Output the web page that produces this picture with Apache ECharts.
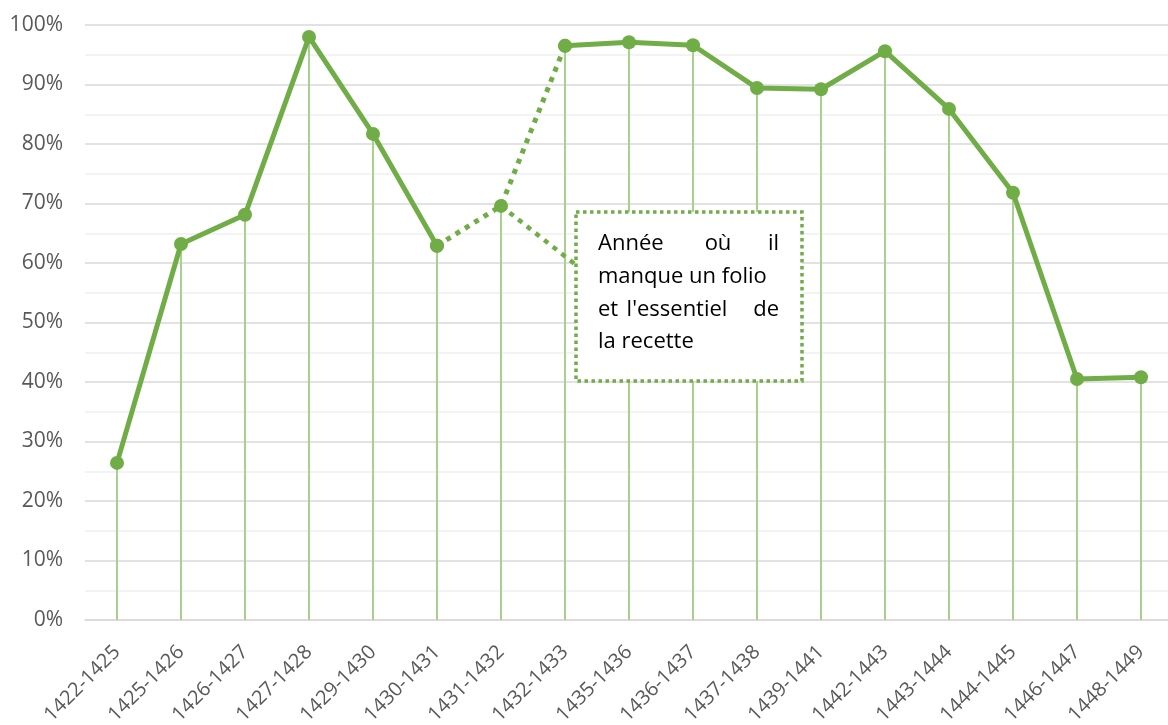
<!DOCTYPE html>
<html>
<head>
<meta charset="utf-8">
<script src="https://cdn.jsdelivr.net/npm/echarts@6/dist/echarts.min.js"></script>
<style>
html, body { margin: 0; padding: 0; background: #fff; }
#main { width: 1168px; height: 725px; }
</style>
</head>
<body>
<div id="main"></div>
<script>
// Part de la recette par exercice (%)
var annees = [ '1422-1425', '1425-1426', '1426-1427', '1427-1428', '1429-1430',
		'1430-1431', '1431-1432', '1432-1433', '1435-1436', '1436-1437',
		'1437-1438', '1439-1441', '1442-1443', '1443-1444', '1444-1445',
		'1446-1447', '1448-1449' ];
var parts = [ 26.4, 63.2, 68.1, 98.0, 81.7, 62.9, 69.6, 96.5, 97.1, 96.6,
		89.4, 89.2, 95.6, 85.9, 71.8, 40.5, 40.8 ];
// annee incomplete (folio manquant) et ses voisines, reliees en pointilles
var anneeIncomplete = 6;
var pont = [ 5, 6, 7 ];

var vert = '#70ad47';
var police = 'Open Sans';

var serieTrait = parts.map(function(v, i) {
	return i === anneeIncomplete ? null : v;
});
var seriePoint = parts.map(function(v, i) {
	return pont.indexOf(i) >= 0 ? v : null;
});

// un mot de la note (texte justifie a la main)
function mot(texte, x, y, align) {
	return {
		type : 'text',
		x : x,
		y : y,
		z : 20,
		style : {
			text : texte,
			align : align,
			verticalAlign : 'middle',
			fontFamily : police,
			fontSize : 22,
			fill : '#000'
		}
	};
}

var myChart = echarts.init(document.getElementById('main'));
var option = {
	animation : false,
	grid : {
		left : 85,
		width : 1088,
		top : 25,
		bottom : 105,
		outerBoundsMode : 'none'
	},
	xAxis : {
		type : 'category',
		data : annees,
		boundaryGap : true,
		axisLine : {
			lineStyle : {
				color : '#d9d9d9',
				width : 1.5
			}
		},
		axisTick : {
			show : false
		},
		axisLabel : {
			rotate : 45,
			margin : 29,
			color : '#595959',
			fontFamily : police,
			fontSize : 20
		}
	},
	yAxis : {
		type : 'value',
		min : 0,
		max : 100,
		interval : 10,
		axisLine : {
			show : false
		},
		axisTick : {
			show : false
		},
		axisLabel : {
			formatter : '{value}%',
			margin : 22,
			color : '#595959',
			fontFamily : police,
			fontSize : 21
		},
		splitLine : {
			lineStyle : {
				color : '#d9d9d9',
				width : 1.5
			}
		},
		minorTick : {
			show : false,
			splitNumber : 2
		},
		minorSplitLine : {
			show : true,
			lineStyle : {
				color : '#f0f0f0',
				width : 1.5
			}
		}
	},
	series : [ {
		// lignes de rappel verticales
		type : 'bar',
		data : parts,
		barWidth : 2,
		itemStyle : {
			color : '#a9d18e'
		},
		silent : true,
		z : 1
	}, {
		type : 'line',
		data : serieTrait,
		connectNulls : false,
		symbol : 'circle',
		symbolSize : 14,
		showAllSymbol : true,
		lineStyle : {
			color : vert,
			width : 5
		},
		itemStyle : {
			color : vert
		},
		z : 3
	}, {
		type : 'line',
		data : seriePoint,
		connectNulls : false,
		symbol : 'circle',
		symbolSize : 14,
		showAllSymbol : true,
		lineStyle : {
			color : vert,
			width : 5,
			type : [ 5, 6 ]
		},
		itemStyle : {
			color : vert
		},
		markLine : {
			silent : true,
			symbol : [ 'none', 'none' ],
			label : {
				show : false
			},
			lineStyle : {
				color : vert,
				width : 4.5,
				type : [ 5, 6 ]
			},
			data : [ [ {
				coord : [ anneeIncomplete, parts[anneeIncomplete] ]
			}, {
				x : 576,
				y : 265
			} ] ]
		},
		z : 3
	} ],
	graphic : [ {
		type : 'rect',
		shape : {
			x : 576,
			y : 212,
			width : 226,
			height : 169
		},
		style : {
			fill : '#fff',
			stroke : vert,
			lineWidth : 3.5,
			lineDash : [ 3.5, 3.5 ]
		},
		z : 10
	},
		mot('Année', 598, 244, 'left'),
		mot('où', 718, 244, 'center'),
		mot('il', 779, 244, 'right'),
		mot('manque un folio', 598, 277, 'left'),
		mot('et', 598, 310, 'left'),
		mot("l'essentiel", 677, 310, 'center'),
		mot('de', 779, 310, 'right'),
		mot('la recette', 598, 342, 'left')
	]
};
myChart.setOption(option);
</script>
</body>
</html>
